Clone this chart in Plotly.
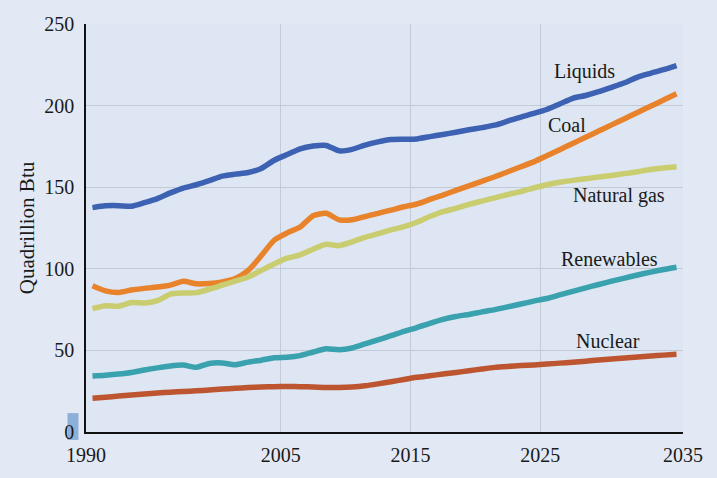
import plotly.graph_objects as go

years = list(range(1990, 2036))

liquids = [137.5, 138.6, 138.7, 138.3, 140.5, 143.0, 146.5, 149.5, 151.5, 154.0,
           156.8, 158.0, 159.0, 161.5, 166.5, 170.0, 173.5, 175.2, 175.6, 172.3,
           173.2, 175.8, 177.8, 179.2, 179.4, 179.6, 181.0, 182.3, 183.7, 185.2,
           186.5, 188.0, 190.5, 193.0, 195.2, 197.6, 201.0, 204.5, 206.2, 208.5,
           211.2, 214.0, 217.5, 219.8, 222.0, 224.5]
coal = [89.6, 86.5, 85.5, 87.0, 88.0, 88.8, 90.0, 92.3, 90.8, 91.0,
        92.0, 94.0, 99.0, 108.0, 117.5, 122.0, 125.6, 132.5, 134.0, 130.0,
        130.0, 132.0, 134.0, 136.0, 138.0, 139.7, 142.5, 145.2, 148.0, 150.8,
        153.6, 156.4, 159.5, 162.5, 165.5, 169.3, 173.0, 176.8, 180.6, 184.4,
        188.2, 192.0, 195.8, 199.6, 203.4, 207.2]
natural_gas = [75.6, 77.4, 77.0, 79.3, 79.0, 80.5, 84.5, 85.2, 85.4, 87.5,
               90.0, 92.5, 95.0, 99.0, 103.0, 106.5, 108.5, 112.0, 115.0, 114.2,
               116.5, 119.3, 121.5, 123.8, 125.8, 128.5, 132.0, 135.0, 137.0, 139.5,
               141.5, 143.5, 145.5, 147.3, 149.5, 151.5, 153.0, 154.2, 155.2, 156.2,
               157.2, 158.3, 159.5, 160.8, 161.8, 162.6]
renewables = [34.3, 34.8, 35.5, 36.5, 38.0, 39.3, 40.5, 41.0, 39.6, 42.0,
              42.3, 41.2, 42.8, 44.0, 45.5, 45.8, 46.8, 49.0, 51.0, 50.4,
              51.5, 54.0, 56.5, 59.0, 61.7, 64.0, 66.6, 69.0, 70.8, 72.0,
              73.6, 75.0, 76.7, 78.4, 80.2, 81.8, 84.0, 86.2, 88.3, 90.4,
              92.4, 94.3, 96.2, 98.0, 99.6, 101.0]
nuclear = [20.7, 21.3, 22.0, 22.7, 23.3, 23.9, 24.4, 24.8, 25.2, 25.7,
           26.3, 26.8, 27.2, 27.5, 27.8, 27.9, 27.8, 27.6, 27.3, 27.3,
           27.6, 28.3, 29.5, 30.8, 32.2, 33.5, 34.5, 35.5, 36.5, 37.5,
           38.6, 39.6, 40.2, 40.7, 41.1, 41.6, 42.2, 42.8, 43.4, 44.1,
           44.8, 45.4, 46.0, 46.6, 47.1, 47.6]

series_names = ["Liquids", "Coal", "Natural gas", "Renewables", "Nuclear"]
series_values = [liquids, coal, natural_gas, renewables, nuclear]
colors = ["#3D62B3", "#E8832B", "#C9CD6F", "#3AA2AE", "#BD5531"]

x_tick_labels = ["1990", "2005", "2015", "2025", "2035"]
x_tick_pos = [1989.5, 2004.5, 2014.5, 2024.5, 2035.5]
label_pos = [(2027.9, 221), (2026.6, 188), (2030.6, 145), (2029.8, 106), (2029.7, 56)]

FONT = "Liberation Serif"

fig = go.Figure()
for name, vals, col in zip(series_names, series_values, colors):
    fig.add_trace(go.Scatter(x=years, y=vals, mode="lines", name=name,
                             line=dict(color=col, width=5.5, shape="spline", smoothing=0.6),
                             hoverinfo="skip"))

for name, (lx, ly) in zip(series_names, label_pos):
    fig.add_annotation(x=lx, y=ly, xref="x", yref="y", text=name, showarrow=False,
                       font=dict(family=FONT, size=20, color="#1a1a1a"))

# highlight box behind the "0" tick label
fig.add_shape(type="rect", xref="paper", yref="paper", layer="below",
              x0=-0.031, x1=-0.0126, y0=-0.0195, y1=0.0463,
              fillcolor="#8DB0D8", line=dict(width=0))

fig.update_layout(
    width=717, height=478,
    margin=dict(l=85.5, r=34, t=23.5, b=44),
    paper_bgcolor="#E2E9F5",
    plot_bgcolor="#DDE6F2",
    showlegend=False,
    font=dict(family=FONT, size=20, color="#1a1a1a"),
    xaxis=dict(range=[1989.5, 2035.5], tickvals=x_tick_pos, ticktext=x_tick_labels,
               showgrid=True, gridcolor="#C3CAD6", gridwidth=1.3,
               showline=True, linecolor="#111111", linewidth=1.5,
               ticks="outside", ticklen=4, tickcolor="rgba(0,0,0,0)",
               zeroline=False, fixedrange=True),
    yaxis=dict(range=[0, 250], dtick=50, tick0=0,
               showgrid=True, gridcolor="#C3CAD6", gridwidth=1.3,
               showline=True, linecolor="#111111", linewidth=1.5,
               ticks="outside", ticklen=6, tickcolor="rgba(0,0,0,0)",
               zeroline=False, fixedrange=True,
               title=dict(text="Quadrillion Btu", font=dict(family=FONT, size=21), standoff=4)),
)

fig.write_html("out.html", config={"displayModeBar": False},
               post_script="document.body.style.margin='0';")
